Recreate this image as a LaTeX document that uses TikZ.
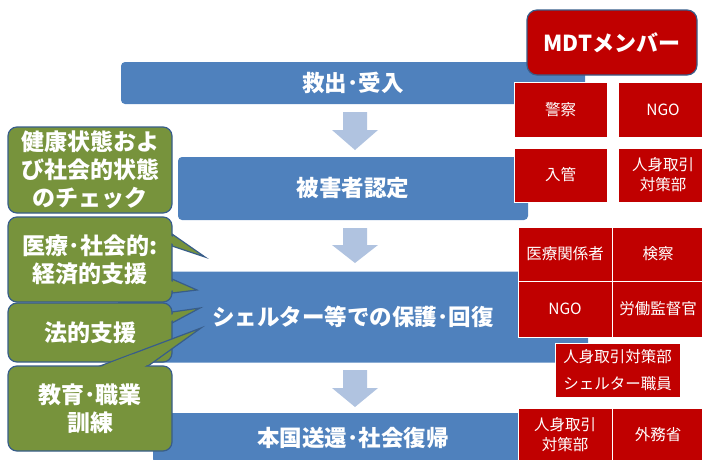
\documentclass[tikz,border=0pt]{standalone}
\usepackage{fontspec}
\setmainfont{Noto Sans CJK JP}
\usetikzlibrary{calc}
\definecolor{barblue}{RGB}{79,129,189}
\definecolor{arrblue}{RGB}{176,195,224}
\definecolor{gfillc}{RGB}{119,147,60}
\definecolor{gline}{RGB}{56,93,138}
\definecolor{redc}{RGB}{192,0,0}
\tikzset{
 bar/.style={fill=barblue, rounded corners=4pt, text=white, font=\fontsize{22.5}{26}\selectfont\bfseries, inner sep=0pt},
 gbox/.style={fill=gfillc, draw=gline, line width=1.2pt, rounded corners=9pt, text=white, font=\fontsize{23}{28}\selectfont\bfseries, align=center, minimum width=164pt, inner sep=0pt},
 gptr/.style={fill=gfillc, draw=gline, line width=1.2pt, line join=miter},
 rbox/.style={fill=redc, draw=white, line width=1pt, text=white, font=\fontsize{15.5}{20}\selectfont, align=center, inner sep=0pt},
 arr/.style={fill=arrblue},
}
\newcommand{\dnarrow}[3]{%
 \fill[arr] (343,#1) -- (367,#1) -- (367,#2) -- (378,#2) -- (355,#3) -- (332,#2) -- (343,#2) -- cycle;}
\newcommand{\ptrtri}[3]{\filldraw[gptr] (#1) -- (#3) -- (#2) -- cycle;}
\newcommand{\ptrcover}[3]{%
 \path coordinate (pa) at ($(#1)!2.5pt!(#2)$) coordinate (pb) at ($(#2)!2.5pt!(#1)$);
 \fill[gfillc] ($(pa)!-2pt!(#3)$) -- ($(pa)!0.3!(#3)$) -- ($(pb)!0.3!(#3)$) -- ($(pb)!-2pt!(#3)$) -- cycle;}
\begin{document}
\begin{tikzpicture}[x=1pt,y=-1pt]
\useasboundingbox (0,0) rectangle (702,459);
% process bars
\node[bar, minimum width=464pt, minimum height=42pt] (b1) at (353,83) {救出･受入};
\node[bar, minimum width=350pt, minimum height=63pt] (b2) at (353,188.5) {被害者認定};
\node[bar, minimum width=470pt, minimum height=91pt] (b3) at (353,317) {シェルター等での保護･回復};
\node[bar, minimum width=400pt, minimum height=50pt] (b4) at (353,438) {本国送還･社会復帰};
% arrows
\dnarrow{112}{130}{150}
\dnarrow{228}{245}{263}
\dnarrow{370}{388}{407}
% pointer coordinates
\coordinate (p1a) at (172,234); \coordinate (p1b) at (172,246); \coordinate (p1t) at (205,257);
\coordinate (p2a) at (172,279); \coordinate (p2b) at (172,293); \coordinate (p2t) at (197,290);
\coordinate (p3a) at (172,312); \coordinate (p3b) at (172,323); \coordinate (p3t) at (200,308);
\coordinate (p4a) at (100,366); \coordinate (p4b) at (148,366); \coordinate (p4t) at (201,328);
% green callouts
\node[gbox, minimum height=86pt] (g1) at (90,170) {健康状態およ\\び社会的状態\\のチェック};
\ptrtri{p1a}{p1b}{p1t}
\ptrtri{p2a}{p2b}{p2t}
\node[gbox, minimum height=85pt] (g2) at (90,259.5) {医療･社会的:\\経済的支援};
\ptrcover{p1a}{p1b}{p1t}
\ptrcover{p2a}{p2b}{p2t}
\ptrtri{p3a}{p3b}{p3t}
\node[gbox, minimum height=59pt] (g3) at (90,332.5) {法的支援};
\ptrcover{p3a}{p3b}{p3t}
\ptrtri{p4a}{p4b}{p4t}
\node[gbox, minimum height=85pt] (g4) at (90,408.5) {教育･職業\\訓練};
\ptrcover{p4a}{p4b}{p4t}
% red member boxes
\node[rbox, minimum width=93pt, minimum height=55pt] (r1a) at (560.5,109.5) {警察};
\node[rbox, minimum width=90pt, minimum height=55pt] (r1b) at (663,109.5) {NGO};
\node[rbox, minimum width=93pt, minimum height=54pt] (r2a) at (560.5,175) {入管};
\node[rbox, minimum width=90pt, minimum height=54pt] (r2b) at (663,175) {人身取引\\対策部};
\node[rbox, minimum width=94pt, minimum height=54pt] (r3a) at (565,254) {医療関係者};
\node[rbox, minimum width=92pt, minimum height=54pt] (r3b) at (658,254) {検察};
\node[rbox, minimum width=94pt, minimum height=56pt] (r4a) at (565,309) {NGO};
\node[rbox, minimum width=92pt, minimum height=56pt] (r4b) at (658,309) {労働監督官};
\node[rbox, minimum width=125pt, minimum height=54pt, font=\fontsize{15.5}{27}\selectfont] (r5) at (617.5,370) {人身取引対策部\\シェルター職員};
\node[rbox, minimum width=94pt, minimum height=54pt] (r6a) at (565,435) {人身取引\\対策部};
\node[rbox, minimum width=92pt, minimum height=54pt] (r6b) at (658,435) {外務省};
% MDT header
\node[fill=redc, draw=gline, line width=1.2pt, rounded corners=10pt, minimum width=170pt, minimum height=65pt, text=white, font=\fontsize{22}{26}\selectfont\bfseries, inner sep=0pt] (mdt) at (612,42.5) {MDTメンバー};
\end{tikzpicture}
\end{document}
